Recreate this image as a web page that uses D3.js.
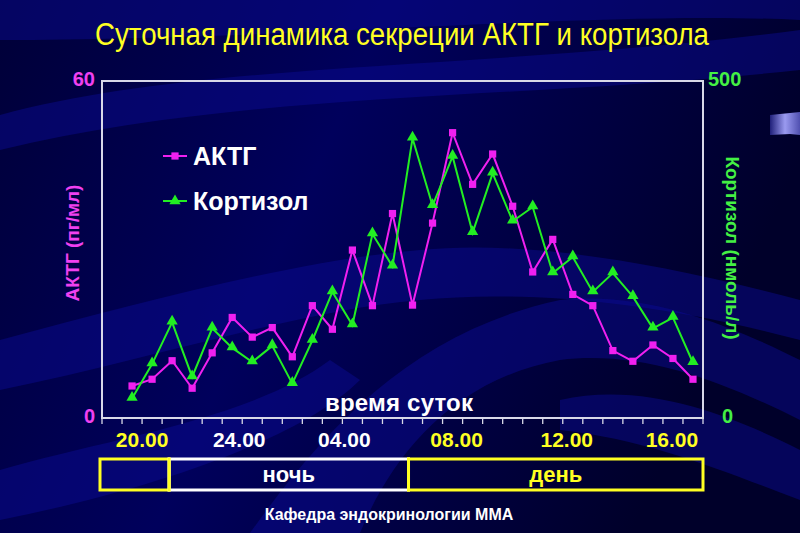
<!DOCTYPE html>
<html><head><meta charset="utf-8">
<script src="https://cdn.jsdelivr.net/npm/d3@7"></script>
<style>body{margin:0;background:#000030;} svg{display:block}</style>
</head><body><svg id="c" width="800" height="533"></svg>
<script>
// ---- data ----
const samples = [0,1,2,3,4,5,6,7,8,9,10,11,12,13,14,15,16,17,18,19,20,21,22,23,24,25,26,27,28];
const acth = [5.7,6.9,10.2,5.3,11.6,17.9,14.4,16.1,10.9,20.0,15.8,29.9,20.0,36.4,20.1,34.7,50.8,41.6,47.0,37.7,26.0,31.8,22.0,20.0,12.0,10.1,13.0,10.6,6.9];
const cortisol = [29,80,142,61,133,104,83,107,51,115,187,138,273,225,415,315,388,275,363,292,313,215,239,187,215,180,133,149,82];
const timeLabels = ["20.00","24.00","04.00","08.00","12.00","16.00"];
const timeAt = [0.5,5.35,10.6,16.2,21.7,26.95];
const timeYellow = [true,false,false,true,true,true];
const periodLabels = ["", "ночь", "день"];
const periodBounds = [-1.6, 1.85, 13.8, 28.5];
const acthTicks = [0, 60];
const cortTicks = [0, 500];

const svg = d3.select("#c");
const W = 800, H = 533;
const FONT = "'Liberation Sans', Arial, sans-serif";
const MAG = "#f020f0", GRN = "#22ee22", YEL = "#ffff22";

// ---- background ----
const defs = svg.append("defs");
const bg = defs.append("linearGradient").attr("id","bg").attr("x1",0).attr("y1",0).attr("x2",1).attr("y2",0.3);
bg.append("stop").attr("offset",0).attr("stop-color","#000038");
bg.append("stop").attr("offset",0.45).attr("stop-color","#00005c");
bg.append("stop").attr("offset",1).attr("stop-color","#00002a");
svg.append("rect").attr("width",W).attr("height",H).attr("fill","url(#bg)");
const waves = [
  "M0,0 L800,0 L800,20 C600,10 300,40 0,40 Z",
  "M0,115 C200,60 500,70 800,30 L800,70 C520,100 250,90 0,150 Z",
  "M0,340 C150,300 300,260 420,250 C520,240 650,260 800,300 L800,340 C650,300 520,290 420,300 C300,310 150,360 0,390 Z",
  "M250,533 C330,420 420,330 560,300 C650,290 740,330 800,360 L800,420 C720,380 640,350 560,360 C450,380 390,460 360,533 Z",
  "M0,470 C100,440 250,420 330,360 L360,380 C300,440 150,490 0,520 Z",
  "M560,400 C650,380 740,420 800,450 L800,500 C720,470 650,440 560,430 Z"
];
svg.append("g").selectAll("path").data(waves).join("path")
  .attr("d", d=>d).attr("fill","#0c0c96").attr("opacity",0.45);

// decorative tab at right
const tg = defs.append("linearGradient").attr("id","tab").attr("x1",0).attr("x2",1);
tg.append("stop").attr("offset",0).attr("stop-color","#20207a");
tg.append("stop").attr("offset",0.5).attr("stop-color","#9a9af0");
tg.append("stop").attr("offset",1).attr("stop-color","#5050b0");
svg.append("path").attr("d","M770,115 L790,113 L800,112 L800,135 L790,134 L770,135 Z").attr("fill","url(#tab)");

// ---- scales ----
const x = d3.scaleLinear().domain([-1.5, 28.5]).range([102, 703]);
const yL = d3.scaleLinear().domain([0, 60]).range([418, 81]);
const yR = d3.scaleLinear().domain([0, 500]).range([418, 81]);

// ---- title ----
svg.append("text").attr("x",402).attr("y",45).attr("text-anchor","middle")
  .attr("font-family",FONT).attr("font-size",31).attr("fill",YEL)
  .attr("textLength",614).attr("lengthAdjust","spacingAndGlyphs")
  .text("Суточная динамика секреции АКТГ и кортизола");

// ---- frame ----
svg.append("rect").attr("x",x.range()[0]).attr("y",yL.range()[1])
  .attr("width",x.range()[1]-x.range()[0]).attr("height",yL.range()[0]-yL.range()[1])
  .attr("fill","none").attr("stroke","#d8d8e8").attr("stroke-width",2);

// bottom ticks
svg.append("g").selectAll("line").data(d3.range(-1.5, 28.6, 1)).join("line")
  .attr("x1",d=>x(d)).attr("x2",d=>x(d)).attr("y1",yL(0)).attr("y2",yL(0)+6)
  .attr("stroke","#d8d8e8").attr("stroke-width",1.3);

// ---- axis values ----
svg.append("g").selectAll("text").data(acthTicks).join("text")
  .attr("x",95).attr("y",d=>yL(d)+5).attr("text-anchor","end")
  .attr("font-family",FONT).attr("font-weight","bold").attr("font-size",20).attr("fill","#f040f0")
  .text(d=>d);
svg.append("g").selectAll("text").data(cortTicks).join("text")
  .attr("x",d=> d===0 ? 722 : 708).attr("y",d=>yR(d)+5)
  .attr("font-family",FONT).attr("font-weight","bold").attr("font-size",20).attr("fill","#44f044")
  .text(d=>d);

// axis titles
svg.append("text").attr("transform","translate(79,243) rotate(-90)").attr("text-anchor","middle")
  .attr("font-family",FONT).attr("font-weight","bold").attr("font-size",19).attr("fill","#f040f0")
  .text("АКТГ (пг/мл)");
svg.append("text").attr("transform","translate(726,248) rotate(90)").attr("text-anchor","middle")
  .attr("font-family",FONT).attr("font-weight","bold").attr("font-size",19).attr("fill","#44f044")
  .text("Кортизол (нмоль/л)");

// "время суток"
svg.append("text").attr("x",399).attr("y",411).attr("text-anchor","middle")
  .attr("font-family",FONT).attr("font-weight","bold").attr("font-size",24).attr("fill","#ffffff")
  .attr("textLength",148).attr("lengthAdjust","spacing")
  .text("время суток");

// ---- lines ----
const lineA = d3.line().x((d,i)=>x(samples[i])).y(d=>yL(d));
const lineC = d3.line().x((d,i)=>x(samples[i])).y(d=>yR(d));
svg.append("path").datum(acth).attr("d",lineA).attr("fill","none").attr("stroke",MAG).attr("stroke-width",2);
svg.append("path").datum(cortisol).attr("d",lineC).attr("fill","none").attr("stroke",GRN).attr("stroke-width",2);

const sq = d3.symbol().type(d3.symbolSquare).size(52);
const tri = d3.symbol().type(d3.symbolTriangle).size(55);
svg.append("g").selectAll("path").data(acth).join("path")
  .attr("d",sq).attr("transform",(d,i)=>`translate(${x(samples[i])},${yL(d)})`).attr("fill",MAG);
svg.append("g").selectAll("path").data(cortisol).join("path")
  .attr("d",tri).attr("transform",(d,i)=>`translate(${x(samples[i])},${yR(d)-1})`).attr("fill",GRN);

// ---- legend ----
const leg = [{name:"АКТГ", color:MAG, sym:sq, y:156},{name:"Кортизол", color:GRN, sym:tri, y:201}];
const lg = svg.append("g").selectAll("g").data(leg).join("g");
lg.append("line").attr("x1",163).attr("x2",187).attr("y1",d=>d.y).attr("y2",d=>d.y)
  .attr("stroke",d=>d.color).attr("stroke-width",2);
lg.append("path").attr("d",d=>d.sym()).attr("transform",d=>`translate(175,${d.y})`).attr("fill",d=>d.color);
lg.append("text").attr("x",193).attr("y",d=>d.y+9)
  .attr("font-family",FONT).attr("font-weight","bold").attr("font-size",25).attr("fill","#ffffff")
  .text(d=>d.name);

// ---- time labels ----
svg.append("g").selectAll("text").data(timeLabels).join("text")
  .attr("x",(d,i)=>x(timeAt[i])).attr("y",447).attr("text-anchor","middle")
  .attr("font-family",FONT).attr("font-weight","bold").attr("font-size",21)
  .attr("fill",(d,i)=>timeYellow[i]?YEL:"#ffffff")
  .text(d=>d);

// ---- period boxes ----
const periods = periodLabels.map((l,i)=>({label:l, x0:x(periodBounds[i]), x1:x(periodBounds[i+1]), night: l==="ночь"}));
const pb = svg.append("g").selectAll("g").data(periods).join("g");
pb.append("rect").attr("x",d=>d.x0).attr("y",459).attr("width",d=>d.x1-d.x0).attr("height",31)
  .attr("fill","none").attr("stroke",d=>d.night?"#ffffff":YEL).attr("stroke-width",3);
pb.append("text").attr("x",d=>(d.x0+d.x1)/2).attr("y",482).attr("text-anchor","middle")
  .attr("font-family",FONT).attr("font-weight","bold").attr("font-size",22)
  .attr("fill",d=>d.night?"#ffffff":YEL).text(d=>d.label);
// yellow separators over the night box edges
svg.append("g").selectAll("line").data([periodBounds[1], periodBounds[2]]).join("line")
  .attr("x1",d=>x(d)).attr("x2",d=>x(d)).attr("y1",457.5).attr("y2",491.5)
  .attr("stroke",YEL).attr("stroke-width",3);

// footer
svg.append("text").attr("x",389).attr("y",520).attr("text-anchor","middle")
  .attr("font-family",FONT).attr("font-weight","bold").attr("font-size",16).attr("fill","#ffffff")
  .text("Кафедра эндокринологии ММА");
</script></body></html>
